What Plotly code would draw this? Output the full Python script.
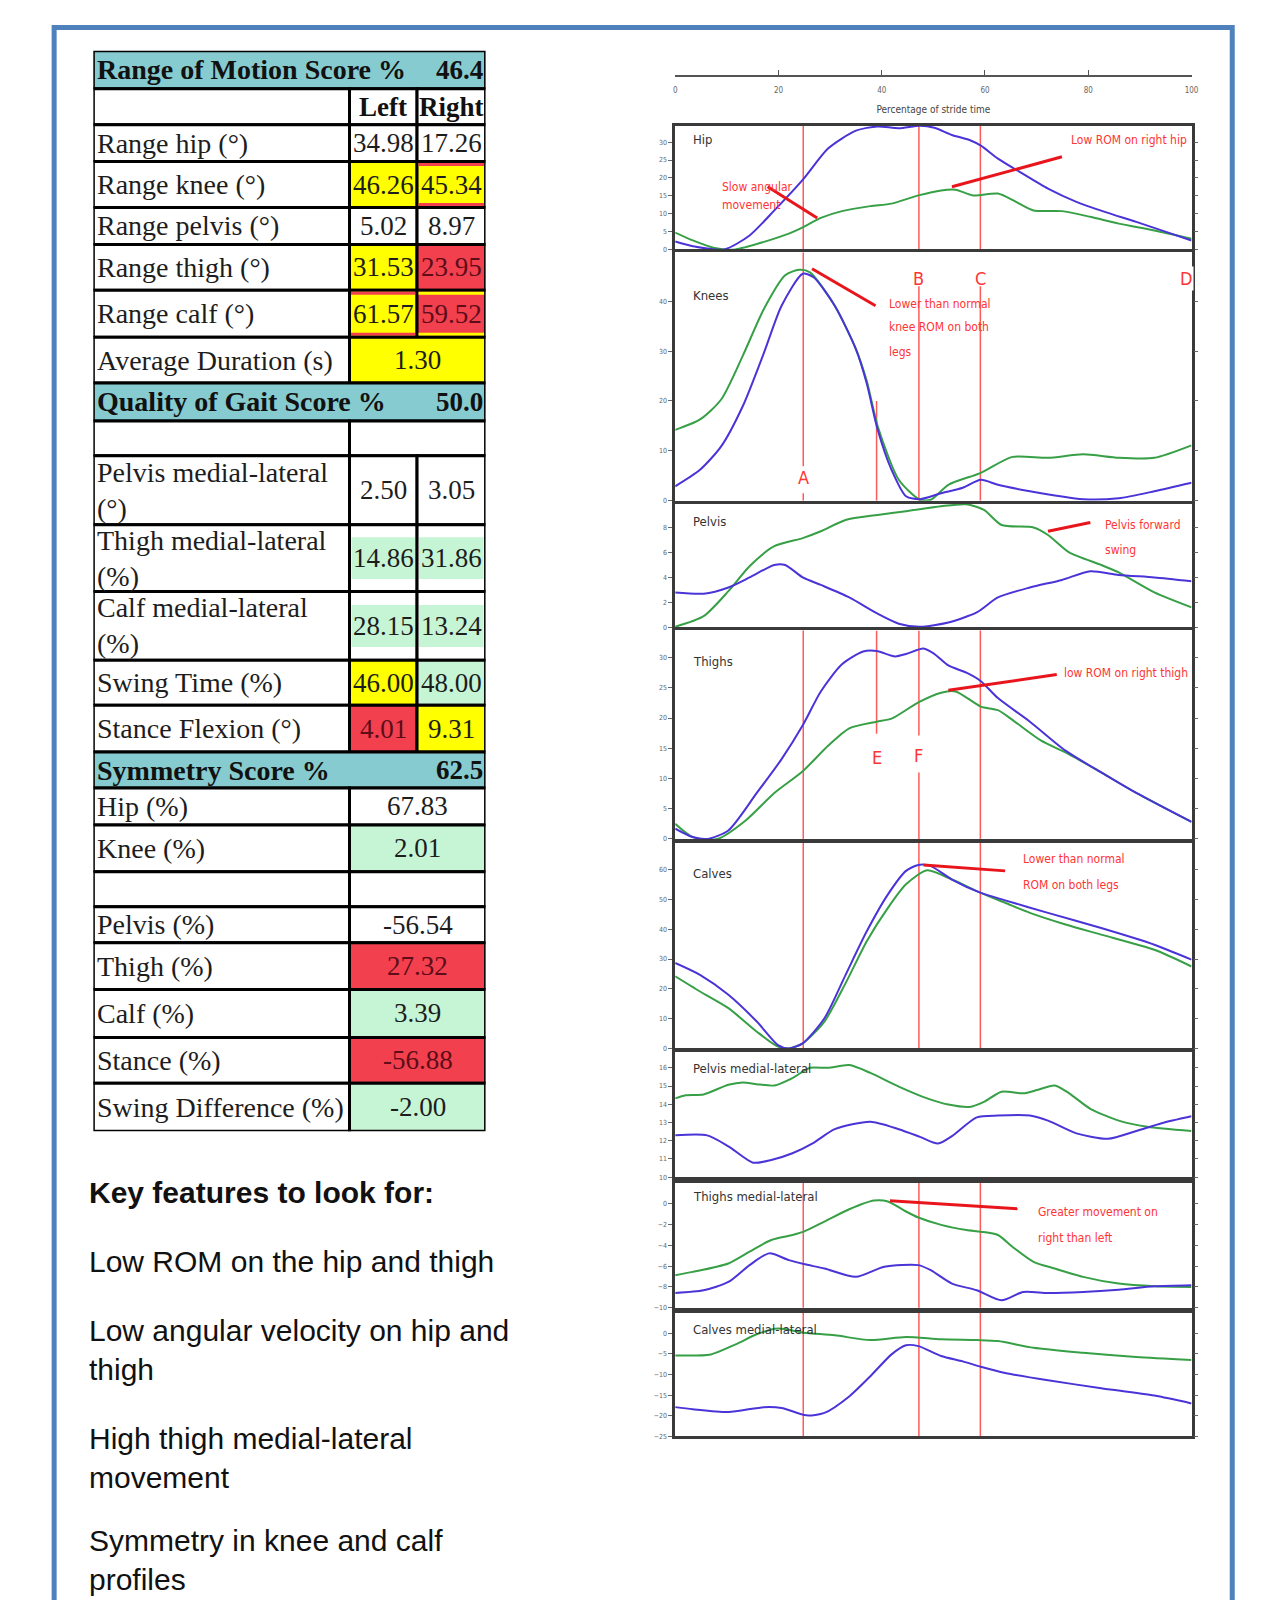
import plotly.graph_objects as go

W, H = 1273, 1600

# ---------------- score table content ----------------
section_titles = ["Range of Motion Score %", "Quality of Gait Score %", "Symmetry Score %"]
section_scores = [46.4, 50.0, 62.5]
side_headers = ["Left", "Right"]

rom_labels = ["Range hip (°)", "Range knee (°)", "Range pelvis (°)", "Range thigh (°)", "Range calf (°)"]
rom_left = [34.98, 46.26, 5.02, 31.53, 61.57]
rom_right = [17.26, 45.34, 8.97, 23.95, 59.52]
rom_left_status = ["ok", "warn", "ok", "warn", "warn"]
rom_right_status = ["ok", "warn", "ok", "bad", "bad"]
rom_left_trim = [None, None, None, None, "bad"]
rom_right_trim = [None, "bad", None, None, "warn"]

duration_label = "Average Duration (s)"
duration_value = 1.30
duration_status = "warn"

quality_labels = ["Pelvis medial-lateral<br>(°)", "Thigh medial-lateral<br>(%)",
                  "Calf medial-lateral<br>(%)", "Swing Time (%)", "Stance Flexion (°)"]
quality_left = [2.50, 14.86, 28.15, 46.00, 4.01]
quality_right = [3.05, 31.86, 13.24, 48.00, 9.31]
quality_left_status = ["ok", "good", "good", "warn", "bad"]
quality_right_status = ["ok", "good", "good", "good", "warn"]

symmetry_labels = ["Hip (%)", "Knee (%)", "", "Pelvis (%)", "Thigh (%)", "Calf (%)",
                   "Stance (%)", "Swing Difference (%)"]
symmetry_values = [67.83, 2.01, None, -56.54, 27.32, 3.39, -56.88, -2.00]
symmetry_status = ["ok", "good", "ok", "ok", "bad", "good", "bad", "good"]

key_heading = "Key features to look for:"
key_points = ["Low ROM on the hip and thigh",
              "Low angular velocity on hip and<br>thigh",
              "High thigh medial-lateral<br>movement",
              "Symmetry in knee and calf<br>profiles"]

# ---------------- stride curves (left leg / right leg) ----------------
stride_ticks = [0, 20, 40, 60, 80, 100]
event_names = ["A", "B", "C", "D", "E", "F"]
event_pct = [24.8, 47.2, 59.1, 100.0, 39.0, 47.2]

hip_left_x = [0, 3.4, 9.5, 14.4, 19.2, 24.9, 29.6, 35.0, 39.2, 43.3, 47.4, 50.2, 53.6, 57.0, 59.2, 62.5,
              66.7, 72.2, 77.7, 83.2, 89.3, 94.2, 100]
hip_left_y = [2.2, 0.9, 0.0, 3.9, 10.9, 19.8, 28.2, 33.2, 34.4, 33.9, 34.6, 34.0, 32.0, 30.6, 29.0, 25.4,
              21.7, 17.0, 13.3, 10.5, 7.7, 5.3, 2.5]
hip_right_x = [0, 3.4, 7.6, 11.7, 17.2, 22.0, 24.9, 28.2, 32.3, 37.8, 41.9, 47.1, 51.5, 54.3, 57.7, 62.5,
               66.0, 69.4, 74.9, 80.4, 85.9, 92.8, 100]
hip_right_y = [4.7, 2.5, 0.4, 0.0, 2.1, 4.4, 6.3, 8.8, 10.7, 12.1, 12.8, 15.1, 16.5, 16.7, 15.1, 15.6,
               13.3, 10.9, 10.7, 9.1, 7.2, 5.3, 3.0]

knee_left_x = [0, 4.8, 8.9, 13.1, 17.2, 20.6, 24.7, 26.8, 30.9, 35.0, 37.1, 39.2, 41.9, 44.7, 47.4, 51.5,
               55.7, 59.2, 62.5, 68.7, 79.0, 85.9, 92.8, 100]
knee_left_y = [2.9, 6.2, 10.9, 19.0, 29.7, 39.1, 45.5, 44.8, 39.1, 30.4, 23.5, 14.3, 6.2, 0.9, 0.3, 1.5,
               2.6, 4.2, 3.2, 1.9, 0.3, 0.5, 1.9, 3.6]
knee_right_x = [0, 4.8, 8.9, 13.1, 17.2, 21.3, 24.0, 26.1, 30.9, 35.0, 37.1, 39.2, 43.3, 47.4, 49.5, 52.9,
                59.2, 65.3, 72.2, 79.0, 85.9, 92.8, 100]
knee_right_y = [14.2, 16.3, 20.3, 29.1, 38.5, 45.2, 46.3, 45.8, 39.1, 30.4, 24.0, 15.0, 4.2, 0.2, 0.2, 3.2,
                5.6, 8.8, 8.6, 9.3, 8.6, 8.6, 11.1]

pelvis_left_x = [0, 5.5, 10.3, 14.4, 19.2, 21.3, 24.7, 28.2, 33.7, 39.2, 43.3, 47.4, 52.9, 58.4, 62.5,
                 68.7, 74.9, 80.4, 85.9, 92.8, 100]
pelvis_left_y = [2.8, 2.7, 3.2, 4.0, 5.0, 5.0, 4.0, 3.4, 2.4, 1.1, 0.3, 0.05, 0.4, 1.2, 2.4,
                 3.2, 3.8, 4.5, 4.2, 4.0, 3.7]
pelvis_right_x = [0, 5.5, 10.3, 14.4, 19.2, 24.7, 28.2, 33.0, 39.2, 44.7, 51.5, 56.4, 59.8, 63.2, 69.4,
                  72.2, 76.3, 82.5, 85.9, 92.8, 100]
pelvis_right_y = [0.05, 0.9, 2.9, 4.9, 6.5, 7.15, 7.7, 8.6, 9.0, 9.3, 9.7, 9.85, 9.4, 8.2, 8.0,
                  7.4, 6.0, 5.0, 4.4, 2.8, 1.6]

thigh_left_x = [0, 3.4, 6.2, 10.3, 15.8, 20.6, 24.7, 28.2, 32.3, 36.4, 39.0, 42.6, 44.7, 48.1, 50.2, 52.9,
                56.4, 59.2, 62.5, 68.7, 75.6, 82.5, 89.3, 100]
thigh_left_y = [1.7, 0.3, 0.0, 1.4, 7.6, 13.2, 18.8, 24.4, 28.9, 31.0, 31.1, 30.2, 30.6, 31.5, 30.6, 28.7,
                27.5, 26.1, 23.3, 19.4, 14.6, 11.0, 7.6, 2.8]
thigh_right_x = [0, 3.4, 8.2, 13.7, 19.2, 24.7, 29.6, 33.7, 39.0, 41.9, 47.1, 51.5, 54.3, 59.2, 62.5,
                 65.3, 70.8, 76.3, 82.5, 89.3, 100]
thigh_right_y = [2.5, 0.3, 0.0, 3.1, 7.6, 11.2, 15.4, 18.3, 19.4, 19.9, 22.6, 24.2, 24.4, 21.9, 21.3,
                 19.7, 16.3, 14.0, 11.0, 7.6, 2.8]

calf_left_x = [0, 4.8, 10.3, 15.8, 19.9, 22.0, 24.7, 28.9, 33.0, 37.1, 41.2, 44.7, 47.1, 49.5, 53.6,
               59.2, 63.9, 72.2, 82.5, 92.8, 100]
calf_left_y = [28.7, 24.7, 18.0, 9.0, 1.1, 0.0, 1.7, 10.1, 24.7, 39.3, 51.7, 59.6, 61.6, 61.2, 56.7,
               52.2, 49.7, 45.5, 40.4, 34.8, 29.8]
calf_right_x = [0, 4.8, 10.3, 15.8, 19.9, 22.0, 24.7, 28.9, 33.0, 37.1, 41.2, 44.7, 48.8, 53.6, 59.2,
                63.9, 68.7, 75.6, 82.5, 92.8, 100]
calf_right_y = [24.2, 19.1, 13.5, 5.6, 0.6, 0.0, 1.7, 9.0, 21.9, 36.0, 47.2, 55.1, 59.8, 56.7, 52.2,
                48.9, 45.5, 41.6, 38.2, 33.1, 27.5]

pelvis_ml_left_x = [0, 6.2, 10.3, 15.1, 18.6, 22.7, 26.8, 30.9, 37.8, 43.3, 47.4, 50.9, 53.6, 58.4, 62.5,
                    68.7, 72.2, 77.7, 83.8, 89.3, 94.2, 100]
pelvis_ml_left_y = [12.29, 12.29, 11.69, 10.79, 10.94, 11.31, 11.88, 12.63, 13.04, 12.63, 12.21, 11.84,
                    12.25, 13.28, 13.38, 13.38, 13.1, 12.4, 12.1, 12.53, 12.96, 13.34]
pelvis_ml_right_x = [0, 2.0, 5.5, 10.3, 13.1, 15.8, 19.2, 22.7, 26.1, 29.6, 33.7, 37.8, 43.3, 48.8, 52.9,
                     57.0, 59.8, 63.2, 67.4, 70.1, 73.5, 76.3, 80.4, 85.9, 91.4, 100]
pelvis_ml_right_y = [14.32, 14.5, 14.54, 15.07, 15.2, 15.1, 15.03, 15.44, 16.0, 16.0, 16.15, 15.72, 14.97,
                     14.32, 13.98, 13.85, 14.13, 14.69, 14.6, 14.78, 15.03, 14.6, 13.75, 13.1, 12.76, 12.53]

thigh_ml_left_x = [0, 5.5, 10.3, 14.4, 18.2, 22.0, 24.9, 28.9, 35.0, 40.5, 47.1, 49.5, 53.6, 58.4, 63.2,
                   67.4, 72.2, 79.0, 85.9, 92.8, 100]
thigh_ml_left_y = [-8.58, -8.32, -7.52, -5.9, -4.77, -5.42, -5.8, -6.23, -7.03, -6.06, -5.9, -6.39, -7.68,
                   -8.32, -9.29, -8.48, -8.58, -8.48, -8.26, -7.94, -7.84]
thigh_ml_right_x = [0, 3.4, 10.3, 14.4, 18.6, 22.7, 24.9, 28.9, 33.7, 38.5, 41.2, 44.7, 47.1, 51.5, 56.4,
                    59.2, 62.5, 65.3, 69.4, 73.5, 79.0, 85.9, 92.8, 100]
thigh_ml_right_y = [-6.87, -6.55, -5.74, -4.61, -3.48, -3.0, -2.68, -1.71, -0.52, 0.32, 0.23, -0.74, -1.32,
                    -2.03, -2.52, -2.68, -3.0, -4.13, -5.58, -6.23, -7.03, -7.68, -7.94, -8.0]

calf_ml_left_x = [0, 3.4, 10.3, 17.2, 20.6, 25.4, 28.9, 33.7, 37.8, 41.9, 44.7, 47.1, 51.5, 55.7, 59.2,
                  63.9, 72.2, 82.5, 92.8, 100]
calf_ml_left_y = [-17.9, -18.4, -19.1, -17.9, -18.1, -19.9, -19.3, -15.3, -10.4, -5.1, -2.9, -3.1, -5.5,
                  -6.8, -8.1, -9.6, -11.4, -13.3, -15.1, -17.0]
calf_ml_right_x = [0, 6.9, 11.7, 15.8, 19.9, 24.9, 30.9, 37.8, 44.7, 51.5, 58.4, 62.5, 69.4, 79.0, 89.3, 100]
calf_ml_right_y = [-5.37, -5.12, -2.68, -0.24, 1.14, 0.16, -0.49, -1.63, -0.89, -1.46, -1.63, -1.87, -3.5,
                   -4.72, -5.77, -6.5]

# ---------------- styles ----------------
LEFT_COLOR = "#4a34d8"
RIGHT_COLOR = "#37a046"
FRAME = "#3a3a3a"
EVENT_LINE = "#ff5a5a"
NOTE_RED = "#ff3434"
ARROW_RED = "#e8161c"
NARROW = "Liberation Sans Narrow, Arial Narrow, DejaVu Sans Condensed, sans-serif"
SERIF = "Liberation Serif, Times New Roman, serif"
SANS = "Liberation Sans, Arial, sans-serif"
STATUS_FILL = {"ok": "#ffffff", "good": "#c6f5d6", "warn": "#ffff00", "bad": "#f2404f"}
STATUS_TEXT = {"ok": "#1d1d1d", "good": "#1d1d1d", "warn": "#1d1d1d", "bad": "#5c0d18"}
HEADER_FILL = "#86cbcf"

X_DOMAIN = [678 / W, 1198 / W]

# panel layout: pixel band, value range, ticks, event lines, leader lines and notes
panels = [
    dict(title="Hip", title_y=30.7, top=126, bottom=250, yrange=[0, 34.6], ticks=[0, 5, 10, 15, 20, 25, 30],
         left=(hip_left_x, hip_left_y), right=(hip_right_x, hip_right_y),
         marks=[("A", None, None), ("B", None, None), ("C", None, None)],
         arrows=[(17.9, 17.5, 27.5, 8.8), (53.6, 17.5, 74.9, 25.9)],
         notes=[("Slow angular", 8.6, 17.5), ("movement", 8.6, 12.3), ("Low ROM on right hip", 76.3, 30.5)],
         letters=[]),
    dict(title="Knees", title_y=41.1, top=253, bottom=502, yrange=[0, 49.8], ticks=[0, 10, 20, 30, 40],
         left=(knee_left_x, knee_left_y), right=(knee_right_x, knee_right_y),
         marks=[("A", 49.8, 6.9), ("A", 1.5, 0), ("B", 43.0, 0), ("C", 43.0, 0), ("E", 20.0, 0)],
         arrows=[(26.5, 46.5, 38.8, 39.1)],
         notes=[("Lower than normal", 41.0, 39.5), ("knee ROM on both", 41.0, 34.8), ("legs", 41.0, 29.8)],
         letters=[("B", 44.6), ("C", 44.6), ("A", 4.6)]),
    dict(title="Pelvis", title_y=8.5, top=505, bottom=629, yrange=[0, 9.9], ticks=[0, 2, 4, 6, 8],
         left=(pelvis_left_x, pelvis_left_y), right=(pelvis_right_x, pelvis_right_y),
         marks=[],
         arrows=[(72.2, 7.7, 80.4, 8.4)],
         notes=[("Pelvis forward", 82.8, 8.2), ("swing", 82.8, 6.2)],
         letters=[]),
    dict(title="Thighs", title_y=29.4, top=632, bottom=841, yrange=[0, 34.5], ticks=[0, 5, 10, 15, 20, 25, 30],
         left=(thigh_left_x, thigh_left_y), right=(thigh_right_x, thigh_right_y),
         marks=[("A", None, None), ("E", 34.5, 17.4), ("F", 34.5, 17.1), ("F", 11.0, 0), ("C", None, None)],
         arrows=[(52.9, 24.6, 73.9, 27.2)],
         notes=[("low ROM on right thigh", 75.0, 27.5)],
         letters=[("E", 13.5), ("F", 13.8)]),
    dict(title="Calves", title_y=58.6, top=845, bottom=1051, yrange=[0, 69], ticks=[0, 10, 20, 30, 40, 50, 60],
         left=(calf_left_x, calf_left_y), right=(calf_right_x, calf_right_y),
         marks=[("A", None, None), ("B", None, None), ("C", None, None)],
         arrows=[(48.1, 61.6, 63.9, 59.6)],
         notes=[("Lower than normal", 67.0, 63.5), ("ROM on both legs", 67.0, 55.0)],
         letters=[]),
    dict(title="Pelvis medial-lateral", title_y=15.95, top=1055, bottom=1180, yrange=[10, 16.85],
         ticks=[10, 11, 12, 13, 14, 15, 16],
         left=(pelvis_ml_left_x, pelvis_ml_left_y), right=(pelvis_ml_right_x, pelvis_ml_right_y),
         marks=[], arrows=[], notes=[], letters=[]),
    dict(title="Thighs medial-lateral", title_y=0.75, top=1186, bottom=1311, yrange=[-10, 2],
         ticks=[-10, -8, -6, -4, -2, 0],
         left=(thigh_ml_left_x, thigh_ml_left_y), right=(thigh_ml_right_x, thigh_ml_right_y),
         marks=[("A", None, None), ("B", None, None), ("C", None, None)],
         arrows=[(41.6, 0.29, 66.3, -0.48)],
         notes=[("Greater movement on", 69.8, -0.74), ("right than left", 69.8, -3.3)],
         letters=[]),
    dict(title="Calves medial-lateral", title_y=1.0, top=1316, bottom=1440, yrange=[-25, 5],
         ticks=[-25, -20, -15, -10, -5, 0],
         left=(calf_ml_left_x, calf_ml_left_y), right=(calf_ml_right_x, calf_ml_right_y),
         marks=[("A", None, None), ("B", None, None), ("C", None, None)],
         arrows=[], notes=[], letters=[]),
]

fig = go.Figure()
layout = {}
shapes = []
annotations = []


def event_x(name):
    return event_pct[event_names.index(name)]


for i, p in enumerate(panels, start=1):
    sfx = "" if i == 1 else str(i)
    xr, yr = "x" + sfx, "y" + sfx
    layout["xaxis" + sfx] = dict(domain=X_DOMAIN, range=[0, 100], anchor=yr, showline=True, mirror=True,
                                 linecolor=FRAME, linewidth=2.5, showticklabels=False, ticks="",
                                 showgrid=False, zeroline=False)
    layout["yaxis" + sfx] = dict(domain=[1 - p["bottom"] / H, 1 - p["top"] / H], range=p["yrange"],
                                 anchor=xr, showline=True, mirror="ticks", linecolor=FRAME, linewidth=2.5,
                                 tickvals=p["ticks"], ticks="outside", ticklen=4, tickwidth=1,
                                 tickcolor="#666", tickfont=dict(size=7, color="#666", family=NARROW),
                                 showgrid=False, zeroline=False)
    for (xs, ys), color in ((p["right"], RIGHT_COLOR), (p["left"], LEFT_COLOR)):
        fig.add_trace(go.Scatter(x=xs, y=ys, xaxis=xr, yaxis=yr, mode="lines",
                                 line=dict(color=color, width=2, shape="spline", smoothing=0.7),
                                 hoverinfo="skip", showlegend=False))
    for name, ya, yb in p["marks"]:
        xv = event_x(name)
        if ya is None:
            shapes.append(dict(type="line", xref=xr, yref=yr + " domain", x0=xv, x1=xv, y0=0, y1=1,
                               line=dict(color=EVENT_LINE, width=1.5), layer="below"))
        else:
            shapes.append(dict(type="line", xref=xr, yref=yr, x0=xv, x1=xv, y0=ya, y1=yb,
                               line=dict(color=EVENT_LINE, width=1.5), layer="below"))
    for x0, y0, x1, y1 in p["arrows"]:
        shapes.append(dict(type="line", xref=xr, yref=yr, x0=x0, y0=y0, x1=x1, y1=y1,
                           line=dict(color=ARROW_RED, width=3)))
    for text_, xv, yv in p["notes"]:
        annotations.append(dict(text=text_, xref=xr, yref=yr, x=xv, y=yv, xanchor="left", yanchor="middle",
                                showarrow=False, font=dict(size=12, color=NOTE_RED, family=NARROW)))
    for name, yv in p["letters"]:
        annotations.append(dict(text=name, xref=xr, yref=yr, x=event_x(name), y=yv, xanchor="center",
                                yanchor="middle", showarrow=False,
                                font=dict(size=18, color=NOTE_RED, family=NARROW)))
    annotations.append(dict(text=p["title"], xref=xr, yref=yr, x=3, y=p["title_y"], xanchor="left",
                            yanchor="middle", showarrow=False, font=dict(size=13, color="#333", family=NARROW)))

# "D" marker at the end of the stride, shown on the knee panel
annotations.append(dict(text="D", xref="x2", yref="y2", x=event_x("D") - 1, y=44.6, xanchor="center",
                        yanchor="middle", showarrow=False, bgcolor="white",
                        font=dict(size=18, color=NOTE_RED, family=NARROW)))

# stride-time scale above the panels
layout["xaxis9"] = dict(domain=X_DOMAIN, range=[0, 100], anchor="y9", side="bottom", showline=True,
                        linecolor="#555", linewidth=1.5, tickvals=stride_ticks, ticks="inside", ticklen=5,
                        tickcolor="#555", tickfont=dict(size=8, color="#666", family=NARROW),
                        ticklabelstandoff=7,
                        title=dict(text="Percentage of stride time", font=dict(size=10, color="#444", family=NARROW),
                                   standoff=12),
                        showgrid=False, zeroline=False)
layout["yaxis9"] = dict(domain=[1 - 75 / H, 1 - 73 / H], range=[0, 1], anchor="x9", visible=False)
fig.add_trace(go.Scatter(x=[0, 100], y=[0.5, 0.5], xaxis="x9", yaxis="y9", mode="markers",
                         marker=dict(opacity=0), hoverinfo="skip", showlegend=False))

# ---------------- score table (own axis, units are table pixels) ----------------
TABLE_W = 395
row_heights = [38, 36, 37, 46, 37, 46, 47, 46, 38, 35, 69, 67, 69, 45, 47, 36, 37, 47, 35, 36, 47, 48, 46, 48]
edges = [0]
for h in row_heights:
    edges.append(edges[-1] + h)
col_edges = [0, 258, 326, TABLE_W]

layout["xaxis10"] = dict(domain=[92 / W, 487 / W], range=[0, TABLE_W], anchor="y10", visible=False)
layout["yaxis10"] = dict(domain=[1 - (51 + edges[-1]) / H, 1 - 51 / H], range=[edges[-1], 0],
                         anchor="x10", visible=False)
fig.add_trace(go.Scatter(x=[0, TABLE_W], y=[0, edges[-1]], xaxis="x10", yaxis="y10", mode="markers",
                         marker=dict(opacity=0), hoverinfo="skip", showlegend=False))


def cell(x0, x1, y0, y1, fill="#ffffff", trim=None, band=False):
    if band and fill != "#ffffff":
        mid = (y0 + y1) / 2
        shapes.append(dict(type="rect", xref="x10", yref="y10", x0=x0, x1=x1, y0=y0, y1=y1,
                           fillcolor="#ffffff", line=dict(color="black", width=3)))
        shapes.append(dict(type="rect", xref="x10", yref="y10", x0=x0 + 2, x1=x1 - 2, y0=mid - 21, y1=mid + 21,
                           fillcolor=fill, line=dict(width=0)))
        return
    shapes.append(dict(type="rect", xref="x10", yref="y10", x0=x0, x1=x1, y0=y0, y1=y1,
                       fillcolor=fill, line=dict(color="black", width=3)))
    if trim:
        for a, b in ((y0 + 1.5, y0 + 4.5), (y1 - 4.5, y1 - 1.5)):
            shapes.append(dict(type="rect", xref="x10", yref="y10", x0=x0 + 1.5, x1=x1 - 1.5, y0=a, y1=b,
                               fillcolor=trim, line=dict(width=0)))


def text(s, x, y, anchor="center", size=28, bold=False, color="#1d1d1d"):
    annotations.append(dict(text=f"<b>{s}</b>" if bold else s, xref="x10", yref="y10", x=x, y=y,
                            xanchor=anchor, yanchor="middle", align="left", showarrow=False,
                            font=dict(size=size, color=color, family=SERIF)))


rows = iter(zip(edges[:-1], edges[1:]))
left_mid = (col_edges[1] + col_edges[2]) / 2
right_mid = (col_edges[2] + col_edges[3]) / 2
merged_mid = (col_edges[1] + col_edges[3]) / 2
VALUE_SIZE = 27


def section(k):
    y0, y1 = next(rows)
    cell(0, TABLE_W, y0, y1, HEADER_FILL)
    text(section_titles[k], 2, (y0 + y1) / 2, "left", 28, True, "#111")
    text(f"{section_scores[k]:.1f}", TABLE_W - 0.5, (y0 + y1) / 2, "right", 27, True, "#111")


def pair_row(label, lv, rv, ls, rs, lt=None, rt=None):
    y0, y1 = next(rows)
    mid = (y0 + y1) / 2
    two_line = "<br>" in label
    cell(col_edges[0], col_edges[1], y0, y1)
    cell(col_edges[1], col_edges[2], y0, y1, STATUS_FILL[ls], STATUS_FILL.get(lt) if lt else None, two_line)
    cell(col_edges[2], col_edges[3], y0, y1, STATUS_FILL[rs], STATUS_FILL.get(rt) if rt else None, two_line)
    text(label, 2, mid, "left")
    text(f"{lv:.2f}", left_mid, mid, size=VALUE_SIZE, color=STATUS_TEXT[ls])
    text(f"{rv:.2f}", right_mid, mid, size=VALUE_SIZE, color=STATUS_TEXT[rs])


def merged_row(label, value, status):
    y0, y1 = next(rows)
    mid = (y0 + y1) / 2
    cell(col_edges[0], col_edges[1], y0, y1)
    cell(col_edges[1], col_edges[3], y0, y1, STATUS_FILL[status])
    if label:
        text(label, 2, mid, "left")
    if value is not None:
        text(f"{value:.2f}", merged_mid, mid, size=VALUE_SIZE, color=STATUS_TEXT[status])


section(0)
y0, y1 = next(rows)
cell(col_edges[0], col_edges[1], y0, y1)
cell(col_edges[1], col_edges[2], y0, y1)
cell(col_edges[2], col_edges[3], y0, y1)
text(side_headers[0], left_mid, (y0 + y1) / 2, size=27, bold=True, color="#111")
text(side_headers[1], right_mid, (y0 + y1) / 2, size=27, bold=True, color="#111")
for i in range(len(rom_labels)):
    pair_row(rom_labels[i], rom_left[i], rom_right[i], rom_left_status[i], rom_right_status[i],
             rom_left_trim[i], rom_right_trim[i])
merged_row(duration_label, duration_value, duration_status)

section(1)
merged_row("", None, "ok")
for i in range(len(quality_labels)):
    pair_row(quality_labels[i], quality_left[i], quality_right[i], quality_left_status[i],
             quality_right_status[i])

section(2)
for i in range(len(symmetry_labels)):
    merged_row(symmetry_labels[i], symmetry_values[i], symmetry_status[i])

# ---------------- key features notes ----------------
key_y = [1195, 1265, 1353, 1462, 1564]
annotations.append(dict(text=f"<b>{key_heading}</b>", xref="paper", yref="paper", x=86 / W, y=1 - key_y[0] / H,
                        xanchor="left", yanchor="middle", align="left", showarrow=False,
                        font=dict(size=30, color="#111", family=SANS)))
for s, yy in zip(key_points, key_y[1:]):
    annotations.append(dict(text=s, xref="paper", yref="paper", x=86 / W, y=1 - yy / H,
                            xanchor="left", yanchor="middle", align="left", showarrow=False,
                            font=dict(size=30, color="#111", family=SANS)))

# page frame
shapes.append(dict(type="rect", xref="paper", yref="paper", x0=52.5 / W, x1=1239 / W,
                   y0=1 - 27.5 / H, y1=-0.05, line=dict(color="#4f81bd", width=5), fillcolor="rgba(0,0,0,0)"))

fig.update_layout(width=W, height=H, autosize=False, margin=dict(l=0, r=0, t=0, b=0),
                  paper_bgcolor="white", plot_bgcolor="white", showlegend=False,
                  shapes=shapes, annotations=annotations, **layout)

fig.write_html("out.html", config={"displayModeBar": False})
